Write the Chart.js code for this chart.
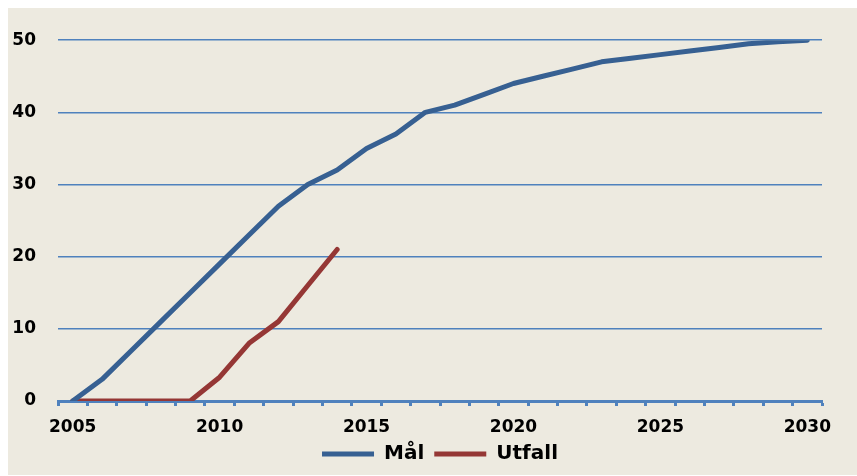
<!DOCTYPE html>
<html>
<head>
<meta charset="utf-8">
<script src="https://cdn.jsdelivr.net/npm/chart.js@4/dist/chart.umd.min.js"></script>
<style>
  html, body { margin: 0; padding: 0; background: #fff; }
  #wrap { position: absolute; left: 8px; top: 8px; width: 849px; height: 467px; background: #edeae0; }
</style>
</head>
<body>
<div id="wrap"><canvas id="chart" width="849" height="467"></canvas></div>
<script>
const years = [];
for (let y = 2005; y <= 2030; y++) years.push(String(y));

const malValues = [0, 3, 7, 11, 15, 19, 23, 27, 30, 32, 35, 37, 40, 41, 42.5, 44,
  45, 46, 47, 47.5, 48, 48.5, 49, 49.5, 49.8, 50];
const utfallValues = [0, 0, 0, 0, 0, 3.3, 8, 11, 16, 21];

const yTicks = [0, 10, 20, 30, 40, 50];

const axisBlue = "#4f81bd";
const labelFont = { family: "DejaVu Sans", weight: "bold", size: 17 };

// legend is centred under the whole canvas in the original, not under the padded area
const shiftLegend = {
  id: "shiftLegend",
  afterLayout(chart) {
    const lg = chart.legend;
    if (lg) { lg.left += 25; lg.right += 25; }
  }
};

new Chart(document.getElementById("chart").getContext("2d"), {
  type: "line",
  data: {
    labels: years,
    datasets: [
      {
        label: "Mål",
        data: malValues,
        borderColor: "#376092",
        backgroundColor: "#376092",
        borderWidth: 5,
        borderCapStyle: "round",
        borderJoinStyle: "round",
        pointRadius: 0,
        tension: 0
      },
      {
        label: "Utfall",
        data: utfallValues,
        borderColor: "#953735",
        backgroundColor: "#953735",
        borderWidth: 5,
        borderCapStyle: "round",
        borderJoinStyle: "round",
        pointRadius: 0,
        tension: 0
      }
    ]
  },
  plugins: [shiftLegend],
  options: {
    responsive: false,
    animation: false,
    layout: { padding: { top: 32, right: 35, bottom: 1, left: 0 } },
    plugins: {
      tooltip: { enabled: false },
      legend: {
        position: "bottom",
        labels: {
          usePointStyle: true,
          pointStyle: "line",
          pointStyleWidth: 52,
          boxHeight: 5,
          padding: 10,
          color: "#000",
          font: { family: "DejaVu Sans", weight: "bold", size: 20 }
        }
      }
    },
    scales: {
      x: {
        type: "category",
        offset: true,
        grid: {
          offset: true,
          drawOnChartArea: false,
          drawTicks: true,
          tickLength: 5,
          tickWidth: 3,
          tickColor: axisBlue
        },
        border: { display: true, color: axisBlue, width: 3 },
        ticks: {
          autoSkip: false,
          maxRotation: 0,
          padding: 11,
          color: "#000",
          font: labelFont,
          callback: function (val, i) { return i % 5 === 0 ? this.getLabelForValue(val) : ""; }
        },
        afterFit: (scale) => { scale.height = 33; }
      },
      y: {
        min: 0,
        max: 50,
        afterBuildTicks: (scale) => { scale.ticks = yTicks.map(v => ({ value: v })); },
        grid: { color: axisBlue, lineWidth: 1.5, drawTicks: false },
        border: { display: false },
        ticks: { padding: 22, color: "#000", font: labelFont },
        afterFit: (scale) => { scale.width = 50; }
      }
    }
  }
});
</script>
</body>
</html>
